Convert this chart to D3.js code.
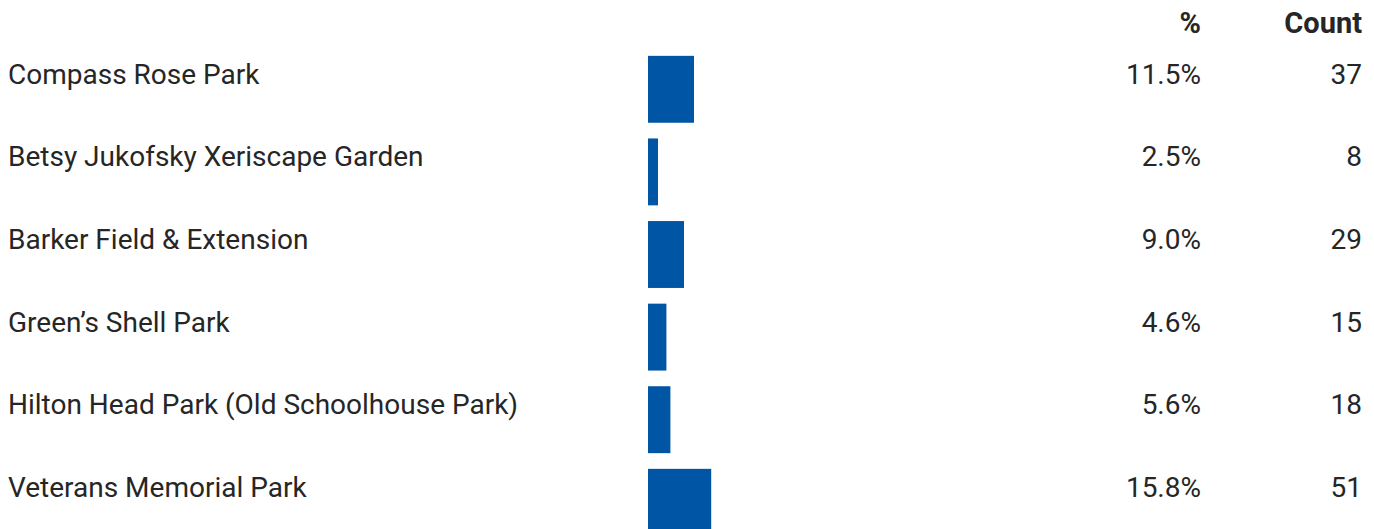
<!DOCTYPE html>
<html>
<head>
<meta charset="utf-8">
<script src="https://cdn.jsdelivr.net/npm/d3@7"></script>
<style>
  body { margin: 0; background: #fff; }
  text { font-family: Roboto, "Open Sans", sans-serif; fill: #262626; }
</style>
</head>
<body>
<div id="chart"></div>
<script>
var parks = [
    "Compass Rose Park",
    "Betsy Jukofsky Xeriscape Garden",
    "Barker Field & Extension",
    "Green\u2019s Shell Park",
    "Hilton Head Park (Old Schoolhouse Park)",
    "Veterans Memorial Park"
];
var percents = [11.5, 2.5, 9.0, 4.6, 5.6, 15.8];
var counts = [37, 8, 29, 15, 18, 51];
var headers = ["%", "Count"];

var svgWidth = 1374;
var svgHeight = 529;

var rows = parks.map(function(p, i) {
    return { park: p, pct: percents[i], count: counts[i] };
});

var svg = d3.select("#chart")
    .append("svg")
    .attr("width", svgWidth)
    .attr("height", svgHeight);

var yScale = d3.scaleBand()
    .domain(parks)
    .range([48, 48 + 82.6 * parks.length])
    .paddingInner(0.19)
    .paddingOuter(0.095);

var xScale = d3.scaleLinear()
    .domain([0, 100])
    .range([648, 1048]);

var pctX = 1201;
var countX = 1362;

// column headers
svg.selectAll(".header")
    .data(headers)
    .enter()
    .append("text")
    .attr("class", "header")
    .attr("x", (d, i) => i == 0 ? pctX : countX)
    .attr("y", 33)
    .attr("text-anchor", "end")
    .style("font-size", "29px")
    .style("font-weight", "bold")
    .text(d => d);

svg.selectAll("rect")
    .data(rows)
    .enter()
    .append("rect")
    .attr("x", xScale(0))
    .attr("y", d => yScale(d.park))
    .attr("width", d => xScale(d.pct) - xScale(0))
    .attr("height", yScale.bandwidth())
    .attr("fill", "#0055a4");

svg.selectAll(".label")
    .data(rows)
    .enter()
    .append("text")
    .attr("class", "label")
    .attr("x", 8)
    .attr("y", d => yScale(d.park) + 28)
    .style("font-size", "28px")
    .text(d => d.park);

svg.selectAll(".pct")
    .data(rows)
    .enter()
    .append("text")
    .attr("class", "pct")
    .attr("x", pctX)
    .attr("y", d => yScale(d.park) + 28)
    .attr("text-anchor", "end")
    .style("font-size", "28px")
    .text(d => d.pct.toFixed(1) + "%");

svg.selectAll(".count")
    .data(rows)
    .enter()
    .append("text")
    .attr("class", "count")
    .attr("x", countX)
    .attr("y", d => yScale(d.park) + 28)
    .attr("text-anchor", "end")
    .style("font-size", "28px")
    .text(d => d.count);
</script>
</body>
</html>
